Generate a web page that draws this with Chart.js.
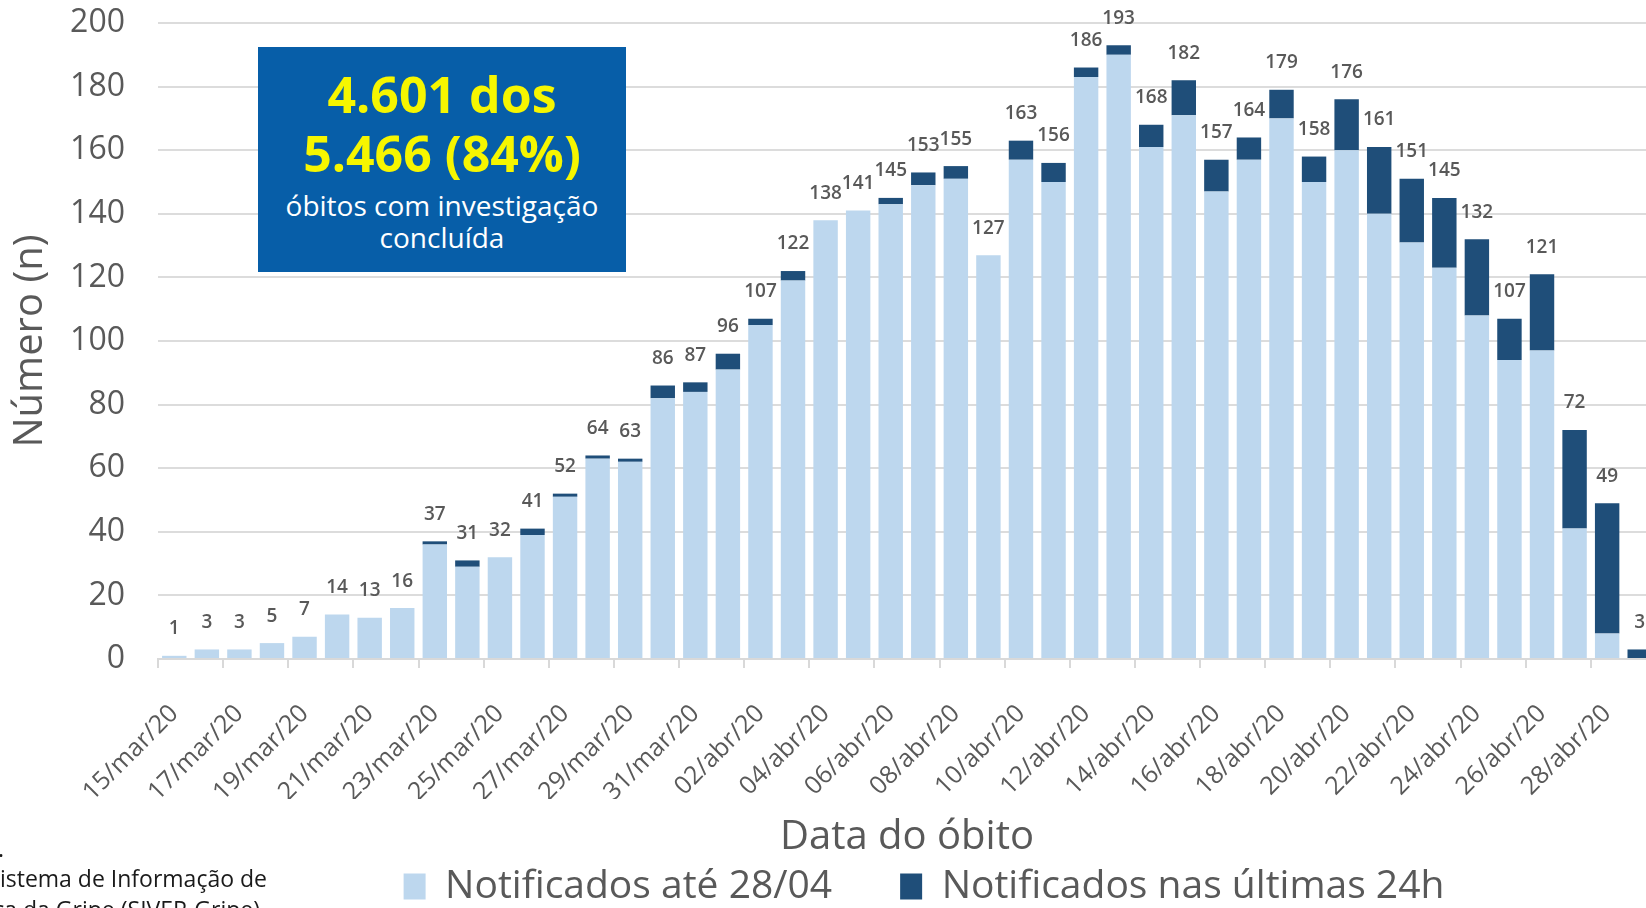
<!DOCTYPE html>
<html lang="pt-BR">
<head>
<meta charset="utf-8">
<title>Óbitos por data do óbito</title>
<script src="https://cdn.jsdelivr.net/npm/chart.js@4.4.1/dist/chart.umd.min.js"></script>
<style>
  html, body { margin: 0; padding: 0; background: #fff; overflow: hidden; }
  #page { position: relative; width: 1646px; height: 908px; overflow: hidden; font-family: 'Open Sans', sans-serif; }
  #wrap { position: absolute; left: 0; top: 0; width: 1692px; height: 908px; }
  #box { position: absolute; left: 258px; top: 47px; width: 368px; height: 225px; background: #075ea8; }
  #box div { position: absolute; left: 0; width: 100%; text-align: center; white-space: nowrap; }
  .big { color: #f6f600; font-weight: 700; font-size: 50px; line-height: 50px; }
  .small { color: #fff; font-size: 28px; line-height: 28px; }
  .note { position: absolute; white-space: nowrap; font-size: 23px; line-height: 31px; color: #1a1a1a; }
</style>
</head>
<body>
<div id="page">
  <div id="wrap"><canvas id="chart"></canvas></div>
  <div id="box">
    <div class="big" style="top:22px">4.601 dos</div>
    <div class="big" style="top:81px">5.466 (84%)</div>
    <div class="small" style="top:144px">óbitos com investigação</div>
    <div class="small" style="top:176px">concluída</div>
  </div>
  <div class="note" style="right:1642px; top:833px">Fonte: SVS/MS.</div>
  <div class="note" style="right:1379px; top:863px">Sistema de Informação de</div>
  <div class="note" style="right:1386px; top:894px">Vigilância Epidemiológica da Gripe (SIVEP-Gripe)</div>
</div>
<script>
const datas = [
  '15/mar/20', '16/mar/20', '17/mar/20', '18/mar/20', '19/mar/20', '20/mar/20', '21/mar/20', '22/mar/20',
  '23/mar/20', '24/mar/20', '25/mar/20', '26/mar/20', '27/mar/20', '28/mar/20', '29/mar/20', '30/mar/20',
  '31/mar/20', '01/abr/20', '02/abr/20', '03/abr/20', '04/abr/20', '05/abr/20', '06/abr/20', '07/abr/20',
  '08/abr/20', '09/abr/20', '10/abr/20', '11/abr/20', '12/abr/20', '13/abr/20', '14/abr/20', '15/abr/20',
  '16/abr/20', '17/abr/20', '18/abr/20', '19/abr/20', '20/abr/20', '21/abr/20', '22/abr/20', '23/abr/20',
  '24/abr/20', '25/abr/20', '26/abr/20', '27/abr/20', '28/abr/20', '29/abr/20'
];

// notificados até 28/04
const notificadosAte = [
  1, 3, 3, 5, 7, 14, 13, 16,
  36, 29, 32, 39, 51, 63, 62, 82,
  84, 91, 105, 119, 138, 141, 143, 149,
  151, 127, 157, 150, 183, 190, 161, 171,
  147, 157, 170, 150, 160, 140, 131, 123,
  108, 94, 97, 41, 8, 0
];

// notificados nas últimas 24h
const ultimas24h = [
  0, 0, 0, 0, 0, 0, 0, 0,
  1, 2, 0, 2, 1, 1, 1, 4,
  3, 5, 2, 3, 0, 0, 2, 4,
  4, 0, 6, 6, 3, 3, 7, 11,
  10, 7, 9, 8, 16, 21, 20, 22,
  24, 13, 24, 31, 41, 3
];

const yTicks = { min: 0, max: 200, step: 20 };

const FONT = "'Open Sans', sans-serif";
const GRAY = '#595959';

const totalLabels = {
  id: 'totalLabels',
  afterDatasetsDraw(chart) {
    const { ctx } = chart;
    const y = chart.scales.y;
    const meta = chart.getDatasetMeta(1);
    ctx.save();
    ctx.font = "600 19px " + FONT;
    ctx.fillStyle = GRAY;
    ctx.textAlign = 'center';
    ctx.textBaseline = 'middle';
    meta.data.forEach((bar, i) => {
      const total = notificadosAte[i] + ultimas24h[i];
      ctx.fillText(String(total), bar.x, y.getPixelForValue(total) - 27);
    });
    ctx.restore();
  }
};

// legend sits a bit right of the canvas centre in the original
const legendShift = {
  id: 'legendShift',
  afterLayout(chart) {
    const lg = chart.legend;
    lg.left = chart.chartArea.left + 34;
    lg.right = chart.chartArea.right;
  }
};

new Chart(document.getElementById('chart'), {
  type: 'bar',
  data: {
    labels: datas,
    datasets: [
      {
        label: 'Notificados até 28/04',
        data: notificadosAte,
        backgroundColor: '#bdd7ee',
        barPercentage: 0.75,
        categoryPercentage: 1,
      },
      {
        label: 'Notificados nas últimas 24h',
        data: ultimas24h,
        backgroundColor: '#1f4e79',
        barPercentage: 0.75,
        categoryPercentage: 1,
      },
    ],
  },
  options: {
    responsive: true,
    maintainAspectRatio: false,
    animation: false,
    layout: { padding: { top: 23, left: 0, right: 7, bottom: -8 } },
    scales: {
      x: {
        stacked: true,
        grid: {
          drawOnChartArea: false,
          tickLength: 9,
          lineWidth: 2,
          color: (c) => (c.index % 2 === 0 ? '#d9d9d9' : 'rgba(0,0,0,0)'),
        },
        border: { color: '#d9d9d9', width: 2 },
        ticks: {
          autoSkip: false,
          maxRotation: 45,
          minRotation: 45,
          padding: 31,
          color: GRAY,
          font: { family: FONT, size: 25 },
          callback(value, index) {
            return index % 2 === 0 ? this.getLabelForValue(value) : '';
          },
        },
        title: {
          display: true,
          text: 'Data do óbito',
          color: GRAY,
          font: { family: FONT, size: 40 },
          padding: { top: 0, bottom: -63 },
        },
        afterFit(scale) { scale.height = 140; },
      },
      y: {
        stacked: true,
        min: yTicks.min,
        max: yTicks.max,
        grid: { color: '#dcdcdc', lineWidth: 2, drawTicks: true, tickLength: 30, tickColor: 'rgba(0,0,0,0)' },
        border: { display: false },
        ticks: {
          stepSize: yTicks.step,
          padding: 3,
          color: GRAY,
          font: { family: FONT, size: 32 },
        },
        title: {
          display: true,
          text: 'Número (n)',
          color: GRAY,
          font: { family: FONT, size: 40 },
          padding: { top: 7, bottom: 0 },
        },
        afterFit(scale) { scale.width = 158; },
      },
    },
    plugins: {
      legend: {
        position: 'bottom',
        labels: {
          boxWidth: 22,
          boxHeight: 26,
          padding: 68,
          color: GRAY,
          font: { family: FONT, size: 39 },
        },
      },
      tooltip: { enabled: false },
    },
  },
  plugins: [totalLabels, legendShift],
});
</script>
</body>
</html>
